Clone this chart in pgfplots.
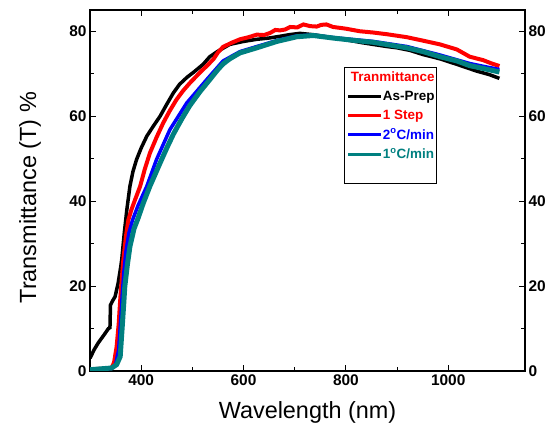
\documentclass[border=0pt]{standalone}
\usepackage{fontspec}
\setmainfont{Liberation Sans}
\usepackage{pgfplots}
\pgfplotsset{compat=1.18}
\definecolor{tealc}{RGB}{0,128,128}

\begin{document}
\begin{tikzpicture}
\pgfplotsset{
  common/.style={
    scale only axis, width=435bp, height=361bp,
    xmin=300, xmax=1150, ymin=0, ymax=85,
    xtick={400,600,800,1000}, ytick={0,20,40,60,80},
    minor x tick num=1, minor y tick num=1,
    tick align=inside,
    major tick length=6bp, minor tick length=4bp,
    axis line style={line width=1.2bp},
    every tick/.style={line width=1bp, black},
    tick label style={font=\fontsize{15.5}{16}\selectfont\bfseries},
    /pgf/number format/assume math mode=true,
    /pgf/number format/set thousands separator={},
  }
}
\begin{axis}[common, name=main,
    xtick pos=both, ytick pos=left,
    xlabel={Wavelength (nm)},
    ylabel={Transmittance (T) \%},
    xlabel style={at={(axis description cs:0.5,-0.116)}, anchor=center, font=\fontsize{23.5}{26}\selectfont},
    ylabel style={at={(axis description cs:-0.138,0.48)}, anchor=center, font=\fontsize{23.5}{26}\selectfont},
    legend style={at={(0.584,0.842)}, anchor=north west, draw=black, line width=0.8bp,
      font=\fontsize{13.5}{14}\selectfont\bfseries, inner xsep=2bp, inner ysep=4bp, row sep=7bp,
      cells={anchor=west}, nodes={inner xsep=0bp, inner ysep=0.5bp},
      /tikz/every even column/.style={column sep=0pt}},
    legend image code/.code={\draw[#1, line width=3.5bp] (0bp,0bp) -- (33bp,0bp);},
]
\addlegendimage{empty legend}
\addlegendentry{\hspace{-32bp}\textcolor{red}{Tranmittance}}

\addplot[black, line width=3.5bp] coordinates {
(300,3) (308,5) (316,6.6) (328,8.6) (336,10) (339,10.2) (340,15.5) (344,16.5)
(349,17.5) (355,20.7) (360,24.5) (362,26.2) (367,32.5) (372,38) (378,43.5)
(384,47) (391,49.8) (400,52.5) (411,55.3) (424,57.7) (437,60) (450,62.8)
(463,65.5) (475,67.5) (490,69.2) (502,70.3) (521,72.2) (534,74) (550,75.3)
(573,76.9) (600,77.6) (626,78.1) (650,78.4) (671,78.8) (690,79.2) (710,79.5)
(735,79.2) (756,78.8) (775,78.4) (795,78.1) (832,77.3) (853,76.9) (880,76.4)
(900,76.1) (925,75.5) (951,74.5) (984,73.5) (1017,72.2) (1056,70.6)
(1080,69.8) (1100,68.9)
};
\addlegendentry{As-Prep}

\addplot[red, line width=4bp] coordinates {
(300,0.4) (320,0.5) (342,0.7) (347,2) (352,5.7) (356,11) (359,16.7) (362,21.5)
(365,26) (370,31.5) (375,35.6) (381,38) (388,40.3) (398,43.5) (407,47.5)
(417,51.3) (430,55) (443,58.4) (456,61.3) (469,63.9) (482,66) (495,67.8)
(515,70.3) (528,71.8) (541,73.4) (550,75) (560,76.3) (575,77.2) (593,78.1)
(610,78.6) (626,79.2) (640,79.1) (652,79.6) (662,80.3) (671,80.2) (681,80.4)
(691,81) (705,80.9) (717,81.6) (730,81.2) (743,81.1) (752,81.5) (762,81.6)
(775,81) (788,80.8) (800,80.6) (827,80) (853,79.7) (880,79.3) (919,78.6)
(950,77.8) (984,76.9) (1017,75.7) (1042,74) (1068,73.2) (1085,72.4) (1100,71.8)
};
\addlegendentry{\textcolor{red}{1 Step}}

\addplot[blue, line width=3.5bp] coordinates {
(300,0.4) (320,0.5) (342,0.6) (350,1.5) (356,5) (360,12) (363,18) (366,23)
(370,28) (376,32.5) (383,35.5) (394,39) (411,43.5) (430,49.8) (456,56.8)
(489,63.1) (528,68.6) (560,73) (593,75.2) (626,76.4) (665,77.8) (704,78.9)
(736,79.1) (775,78.5) (827,77.9) (853,77.6) (919,76.4) (984,74.4)
(1042,72.4) (1070,71.7) (1100,71)
};
\addlegendentry{\textcolor{blue}{2\textsuperscript{o}C/min}}

\addplot[tealc, line width=5bp] coordinates {
(300,0.3) (320,0.5) (342,0.7) (352,1.5) (359,3.4) (363,10.5) (366,16)
(368,19.9) (373,25) (378,29.3) (386,33.5) (394,36) (404,39.5) (417,43.5)
(437,49) (450,52.5) (463,55.8) (480,59.5) (495,62.5) (515,65.8) (534,68.6)
(550,71) (560,72.3) (573,73.5) (593,74.9) (626,76.1) (665,77.6) (704,78.7)
(736,79) (775,78.4) (827,77.7) (853,77.4) (919,76.1) (951,75.2) (984,74)
(1017,73) (1042,71.9) (1070,71.2) (1100,70.4)
};
\addlegendentry{\textcolor{tealc}{1\textsuperscript{o}C/min}}
\addlegendimage{empty legend}
\addlegendentry{\rule{0pt}{9bp}}
\end{axis}
\begin{axis}[common, axis x line=none, axis y line*=right,
    tick align=inside, ytick pos=right, yticklabel pos=right]
\end{axis}
\path ([shift={(-90bp,-63bp)}]main.south west) rectangle ([shift={(35bp,10bp)}]main.north east);
\end{tikzpicture}
\end{document}
